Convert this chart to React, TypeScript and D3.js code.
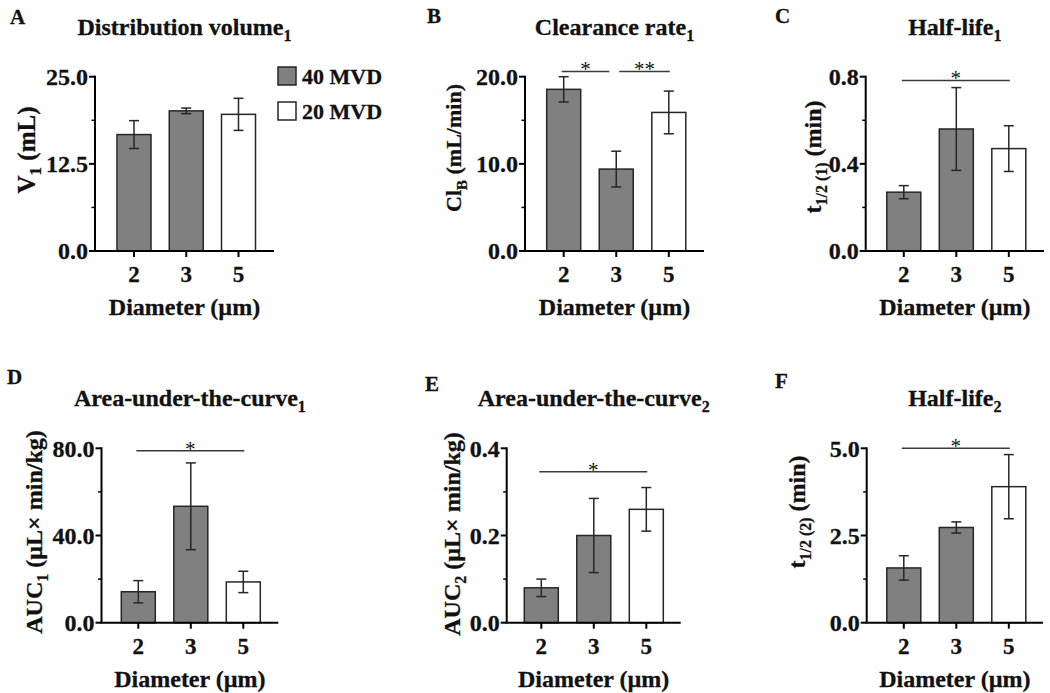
import React, { useRef, useEffect } from "react";
import * as d3 from "d3";

// categories
const diameters = ["2", "3", "5"];
const groupOf = ["40 MVD", "40 MVD", "20 MVD"];
const legendGroups = ["40 MVD", "20 MVD"];

// series values (mean, error)
const v1Mean = [16.7, 20.1, 19.6];
const v1Err = [2.0, 0.4, 2.3];
const clMean = [18.55, 9.4, 15.9];
const clErr = [1.45, 2.05, 2.45];
const t1Mean = [0.27, 0.56, 0.47];
const t1Err = [0.03, 0.19, 0.105];
const auc1Mean = [14.2, 53.4, 18.7];
const auc1Err = [5.1, 19.9, 4.9];
const auc2Mean = [0.08, 0.2, 0.26];
const auc2Err = [0.02, 0.085, 0.05];
const t2Mean = [1.57, 2.73, 3.9];
const t2Err = [0.35, 0.16, 0.92];

// tick values
const v1Ticks = [0, 12.5, 25];
const clTicks = [0, 10, 20];
const t1Ticks = [0, 0.4, 0.8];
const auc1Ticks = [0, 40, 80];
const auc2Ticks = [0, 0.2, 0.4];
const t2Ticks = [0, 2.5, 5];

// significance brackets: [from, to, label, height]
const clSig = [[0, 1, "*", 20.6], [1, 2, "**", 20.6]];
const t1Sig = [[0, 2, "*", 0.783]];
const auc1Sig = [[0, 2, "*", 78.9]];
const auc2Sig = [[0, 2, "*", 0.346]];
const t2Sig = [[0, 2, "*", 5.0]];

const panels = [
  { letter: "A", title: ["Distribution volume", "1"], ylab: ["V", "1", " (mL)"], mean: v1Mean, err: v1Err, ticks: v1Ticks, sig: [], legend: true,
    x0: 95, x1: 274, cL: 134, cR: 238.5, yTop: 76.7, yBot: 251, labOff: 60, labCy: 150, labSize: 25, lx: 10, ly: 24 },
  { letter: "B", title: ["Clearance rate", "1"], ylab: ["Cl", "B", " (mL/min)"], mean: clMean, err: clErr, ticks: clTicks, sig: clSig,
    x0: 525, x1: 704, cL: 563.7, cR: 668.8, yTop: 76.7, yBot: 251, labOff: 64, labCy: 148, labSize: 22, lx: 427, ly: 23 },
  { letter: "C", title: ["Half-life", "1"], ylab: ["t", "1/2 (1)", " (min)"], mean: t1Mean, err: t1Err, ticks: t1Ticks, sig: t1Sig,
    x0: 865.7, x1: 1044, cL: 903.8, cR: 1008.8, yTop: 76.7, yBot: 251, labOff: 45, labCy: 157, labSize: 24, lx: 775, ly: 23 },
  { letter: "D", title: ["Area-under-the-curve", "1"], ylab: ["AUC", "1", " (\u00b5L\u00d7 min/kg)"], mean: auc1Mean, err: auc1Err, ticks: auc1Ticks, sig: auc1Sig,
    x0: 101.5, x1: 278.3, cL: 138.3, cR: 243.3, yTop: 448.3, yBot: 622.7, labOff: 60, labCy: 532, labSize: 24, lx: 7, ly: 384 },
  { letter: "E", title: ["Area-under-the-curve", "2"], ylab: ["AUC", "2", " (\u00b5L\u00d7 min/kg)"], mean: auc2Mean, err: auc2Err, ticks: auc2Ticks, sig: auc2Sig,
    x0: 506.7, x1: 680.7, cL: 541.3, cR: 646.3, yTop: 448.3, yBot: 622.7, labOff: 47, labCy: 534, labSize: 24, lx: 425, ly: 391 },
  { letter: "F", title: ["Half-life", "2"], ylab: ["t", "1/2 (2)", " (min)"], mean: t2Mean, err: t2Err, ticks: t2Ticks, sig: t2Sig,
    x0: 866.7, x1: 1043, cL: 903.8, cR: 1008.8, yTop: 448.3, yBot: 622.7, labOff: 62, labCy: 512, labSize: 24, lx: 775, ly: 388 },
];

const FONT = "'Liberation Serif', 'Times New Roman', serif";
const fillFor = (g) => (g === "40 MVD" ? "#808080" : "#ffffff");

function subText(sel, parts, subSize, subDy) {
  sel.append("tspan").text(parts[0]);
  sel.append("tspan").text(parts[1]).attr("font-size", subSize).attr("dy", subDy);
  if (parts[2]) sel.append("tspan").text(parts[2]).attr("dy", -subDy);
}

export default function App() {
  const ref = useRef(null);

  useEffect(() => {
    const svg = d3.select(ref.current);
    svg.selectAll("*").remove();
    const fmt = d3.format(".1f");

    panels.forEach((p) => {
      const g = svg.append("g")
        .attr("font-family", FONT)
        .attr("font-weight", "bold")
        .attr("fill", "#111");
      const txt = g.append("g").attr("stroke", "#111").attr("stroke-width", 0.3);
      const y = d3.scaleLinear().domain([0, p.ticks[2]]).range([p.yBot, p.yTop]);
      const x = d3.scalePoint().domain(diameters).range([p.cL, p.cR]);
      const bw = 34;

      // panel letter
      txt.append("text").attr("x", p.lx).attr("y", p.ly).attr("font-size", 21).text(p.letter);

      // title
      const t = txt.append("text")
        .attr("x", (p.x0 + p.x1) / 2)
        .attr("y", p.yTop - 42)
        .attr("text-anchor", "middle")
        .attr("font-size", 24);
      subText(t, p.title, 16, 6);

      // bars
      g.selectAll("rect.bar")
        .data(p.mean)
        .join("rect")
        .attr("x", (d, i) => x(diameters[i]) - bw / 2)
        .attr("width", bw)
        .attr("y", (d) => y(d))
        .attr("height", (d) => p.yBot - y(d))
        .attr("fill", (d, i) => fillFor(groupOf[i]))
        .attr("stroke", "#262626")
        .attr("stroke-width", 1.5);

      // error bars
      p.mean.forEach((m, i) => {
        const cx = x(diameters[i]);
        const e = p.err[i];
        const eg = g.append("g").attr("stroke", "#262626").attr("stroke-width", 1.5);
        eg.append("line").attr("x1", cx).attr("x2", cx).attr("y1", y(m - e)).attr("y2", y(m + e));
        [m - e, m + e].forEach((v) =>
          eg.append("line").attr("x1", cx - 5).attr("x2", cx + 5).attr("y1", y(v)).attr("y2", y(v))
        );
      });

      // y axis
      const ax = g.append("g").attr("stroke", "#000").attr("stroke-width", 2);
      ax.append("line").attr("x1", p.x0).attr("x2", p.x0).attr("y1", y(p.ticks[2]) - 1).attr("y2", p.yBot);
      p.ticks.forEach((v) =>
        ax.append("line").attr("x1", p.x0 - 6).attr("x2", p.x0).attr("y1", y(v)).attr("y2", y(v))
      );
      [p.ticks[1] / 2, (p.ticks[1] + p.ticks[2]) / 2].forEach((v) =>
        ax.append("line").attr("x1", p.x0 - 3.5).attr("x2", p.x0).attr("y1", y(v)).attr("y2", y(v)).attr("stroke-width", 1.5)
      );
      // x axis
      ax.append("line").attr("x1", p.x0 - 1).attr("x2", p.x1).attr("y1", p.yBot).attr("y2", p.yBot);
      diameters.forEach((d) =>
        ax.append("line").attr("x1", x(d)).attr("x2", x(d)).attr("y1", p.yBot).attr("y2", p.yBot + 6)
      );

      // tick labels
      txt.selectAll("text.yt")
        .data(p.ticks)
        .join("text")
        .attr("x", p.x0 - 7)
        .attr("y", (d) => y(d))
        .attr("dy", "0.35em")
        .attr("text-anchor", "end")
        .attr("font-size", 24)
        .text((d) => fmt(d));
      txt.selectAll("text.xt")
        .data(diameters)
        .join("text")
        .attr("x", (d) => x(d))
        .attr("y", p.yBot + 31)
        .attr("text-anchor", "middle")
        .attr("font-size", 23)
        .text((d) => d);

      // axis titles
      txt.append("text")
        .attr("x", (p.x0 + p.x1) / 2)
        .attr("y", p.yBot + 64)
        .attr("text-anchor", "middle")
        .attr("font-size", 24)
        .text("Diameter (\u00b5m)");
      const yl = txt.append("text")
        .attr("transform", `translate(${p.x0 - p.labOff},${p.labCy}) rotate(-90)`)
        .attr("text-anchor", "middle")
        .attr("font-size", p.labSize);
      subText(yl, p.ylab, Math.round(p.labSize * 0.67), 6);

      // significance
      p.sig.forEach(([a, b, lab, h], k) => {
        const shared = p.sig.length > 1;
        const xa = x(diameters[a]) - (shared && k > 0 ? -3 : 2);
        const xb = x(diameters[b]) + (shared && k === 0 ? -7 : 1);
        g.append("line")
          .attr("x1", xa).attr("x2", xb)
          .attr("y1", y(h)).attr("y2", y(h))
          .attr("stroke", "#3a3a3a").attr("stroke-width", 1.5);
        g.append("text")
          .attr("x", (xa + xb) / 2)
          .attr("y", y(h) + 5)
          .attr("text-anchor", "middle")
          .attr("font-weight", "normal")
          .attr("font-size", 21)
          .text(lab);
      });

      // legend
      if (p.legend) {
        legendGroups.forEach((lg, i) => {
          g.append("rect")
            .attr("x", 278).attr("y", 67 + i * 35)
            .attr("width", 18).attr("height", 18)
            .attr("fill", fillFor(lg)).attr("stroke", "#262626").attr("stroke-width", 1.5);
          txt.append("text").attr("x", 302).attr("y", 84 + i * 35).attr("font-size", 22).text(lg);
        });
      }
    });
  }, []);

  return (
    <svg
      ref={ref}
      width={1050}
      height={693}
      style={{ position: "absolute", left: 0, top: 0, background: "#fff" }}
    ></svg>
  );
}
